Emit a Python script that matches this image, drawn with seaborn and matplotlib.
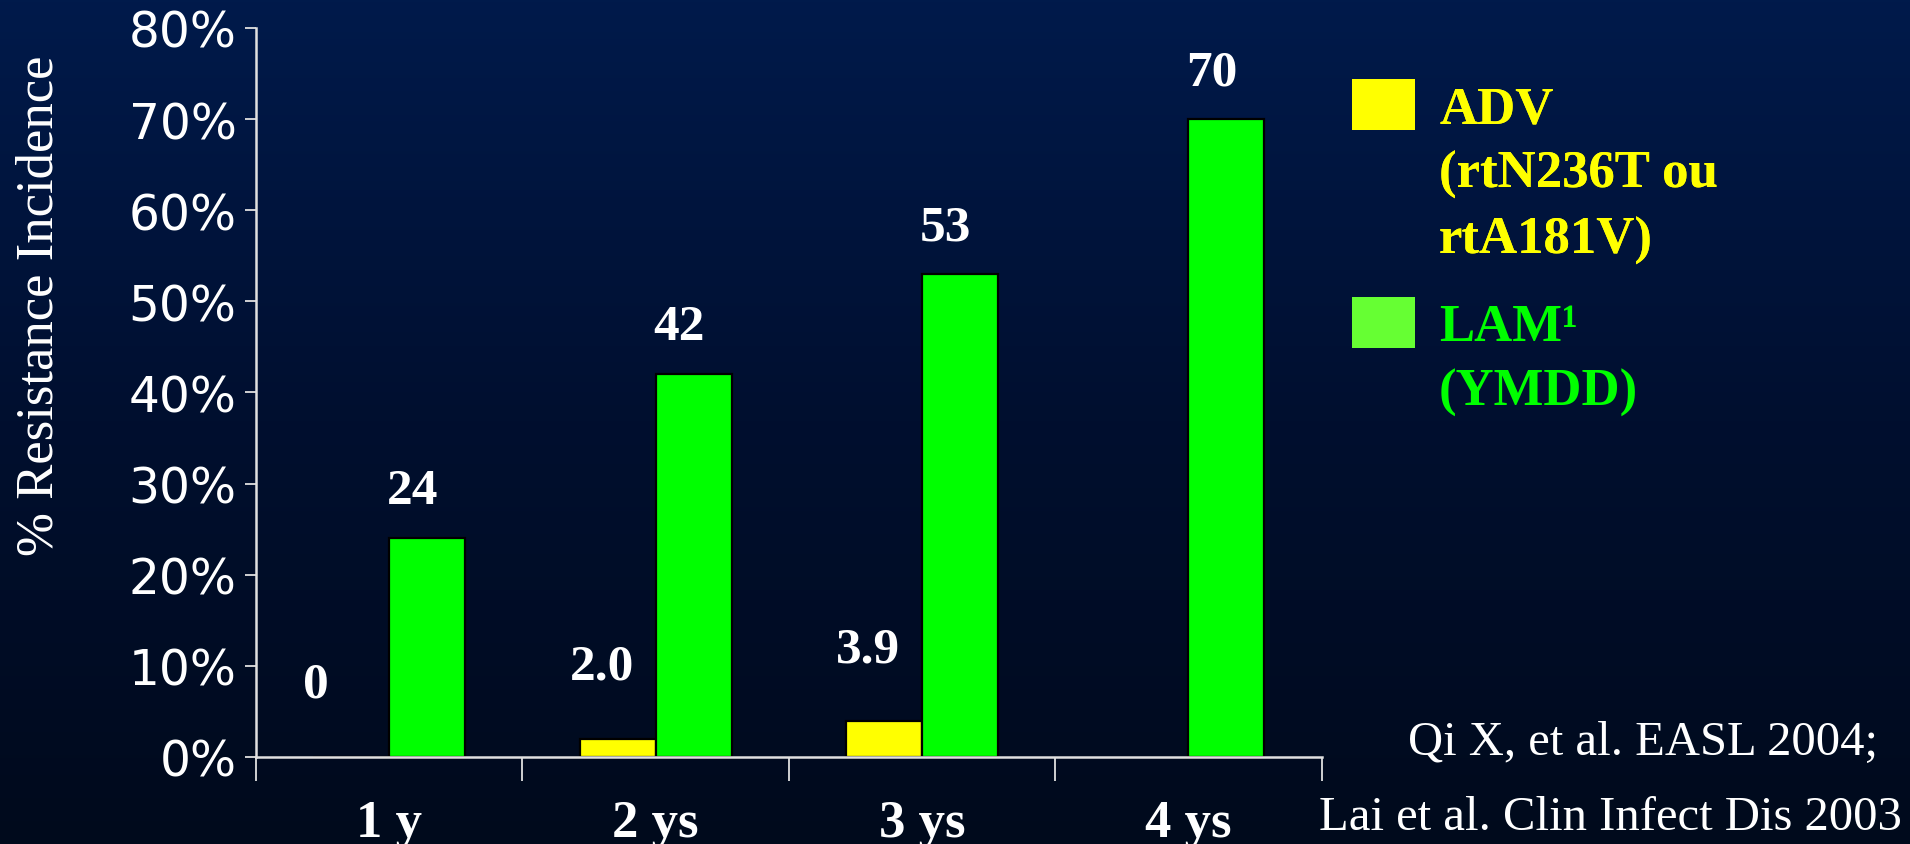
import numpy as np
import pandas as pd
import matplotlib
matplotlib.use("Agg")
import matplotlib.pyplot as plt
import seaborn as sns
from matplotlib.patches import Patch
from matplotlib.colors import LinearSegmentedColormap

# ---- data ----
categories = ["1 y", "2 ys", "3 ys", "4 ys"]
adv_values = [0.0, 2.0, 3.9, np.nan]
lam_values = [24, 42, 53, 70]
adv_labels = ["0", "2.0", "3.9", ""]
lam_labels = ["24", "42", "53", "70"]
series_names = ["ADV", "LAM"]
y_ticks = [0, 10, 20, 30, 40, 50, 60, 70, 80]

df = pd.DataFrame({
    "period": categories * 2,
    "drug": [series_names[0]] * 4 + [series_names[1]] * 4,
    "value": adv_values + lam_values,
})

YELLOW = "#FFFF00"
GREEN = "#00FF00"
LEG_GREEN = "#66FF33"
SERIF = ["Liberation Serif", "DejaVu Serif"]

sns.set_theme(style="white")
plt.rcParams["font.family"] = ["DejaVu Sans"]

fig = plt.figure(figsize=(19.1, 8.45), dpi=100)

# background gradient
bg = fig.add_axes([0, 0, 1, 1], zorder=-10)
cmap = LinearSegmentedColormap.from_list("bg", ["#001a4b", "#000f2f", "#000a1c"])
grad = np.linspace(0, 1, 256).reshape(-1, 1)
bg.imshow(grad, aspect="auto", cmap=cmap, extent=[0, 1, 0, 1])
bg.set_axis_off()

ax = fig.add_axes([0.134, 0.103, 0.558, 0.8627])
ax.patch.set_alpha(0)

sns.barplot(data=df, x="period", y="value", hue="drug", order=categories,
            hue_order=series_names, palette=[YELLOW, GREEN], width=0.57,
            edgecolor="#000000", linewidth=1.6, saturation=1, ax=ax, legend=False)

ax.set_xlim(-0.49, 3.5)
ax.set_ylim(0, 80)
ax.set_yticks(y_ticks)
ax.set_yticklabels([f"{v}%" for v in y_ticks])
ax.set_xticks(range(len(categories)))
ax.set_xticklabels(categories)
ax.set_xticks(np.arange(-0.5, 3.6, 1.0), minor=True)

for s in ["top", "right"]:
    ax.spines[s].set_visible(False)
for s in ["left", "bottom"]:
    ax.spines[s].set_color("#e0e0e0")
    ax.spines[s].set_linewidth(1.8)

ax.tick_params(axis="y", which="major", direction="out", length=8, width=1.3,
               color="#e0e0e0", labelcolor="white", labelsize=35, pad=6, left=True)
ax.tick_params(axis="x", which="major", length=0, pad=30, labelcolor="white")
ax.tick_params(axis="x", which="minor", direction="out", length=17, width=1.3,
               color="#e0e0e0", bottom=True)
for t in ax.get_xticklabels():
    t.set_fontfamily(SERIF)
    t.set_fontweight("bold")
    t.set_fontsize(38)

ax.set_xlabel("")
ax.set_ylabel("% Resistance Incidence", fontsize=38, color="white",
              family=SERIF, va="center")
ax.yaxis.set_label_coords(-0.203, 0.621)

# value labels
adv_cont, lam_cont = ax.containers[0], ax.containers[1]
labs_adv = [l for v, l in zip(adv_values, adv_labels) if not np.isnan(v)]
for bar, lab in zip(adv_cont, labs_adv):
    ax.annotate(lab, (bar.get_x() + bar.get_width() / 2, bar.get_height()),
                xytext=(-48, 72), textcoords="offset pixels", ha="left", va="center",
                color="white", fontsize=37, fontweight="bold", family=SERIF)
for bar, lab in zip(lam_cont, lam_labels):
    ax.annotate(lab, (bar.get_x() + bar.get_width() / 2, bar.get_height()),
                xytext=(-15, 47), textcoords="offset pixels", ha="center", va="center",
                color="white", fontsize=37, fontweight="bold", family=SERIF)

# legends
leg_font = dict(family=SERIF, weight="bold", size=38)
h1 = [Patch(facecolor=YELLOW, edgecolor="none"),
      Patch(facecolor="none", edgecolor="none"),
      Patch(facecolor="none", edgecolor="none")]
l1 = ["ADV", "(rtN236T ou", "rtA181V)"]
leg1 = fig.legend(h1, l1, loc="upper left", bbox_to_anchor=(1352 / 1910, 1 - 80 / 845),
                  frameon=False, prop=leg_font, handlelength=1.2, handleheight=1.1,
                  handletextpad=0.45, labelspacing=0.2, borderpad=0, borderaxespad=0)
for t in leg1.get_texts():
    t.set_color(YELLOW)
h2 = [Patch(facecolor=LEG_GREEN, edgecolor="none"),
      Patch(facecolor="none", edgecolor="none")]
l2 = ["LAM¹", "(YMDD)"]
leg2 = fig.legend(h2, l2, loc="upper left", bbox_to_anchor=(1352 / 1910, 1 - 298 / 845),
                  frameon=False, prop=leg_font, handlelength=1.2, handleheight=1.1,
                  handletextpad=0.45, labelspacing=0.2, borderpad=0, borderaxespad=0)
for t in leg2.get_texts():
    t.set_color(GREEN)
fig.add_artist(leg1)

# citation
fig.text(1878 / 1910, 1 - 743 / 845, "Qi X, et al. EASL 2004;", ha="right", va="center",
         color="white", fontsize=35, family=SERIF)
fig.text(1902 / 1910, 1 - 818 / 845, "Lai et al. Clin Infect Dis 2003", ha="right",
         va="center", color="white", fontsize=35, family=SERIF)

fig.savefig("out.png", dpi=100)
